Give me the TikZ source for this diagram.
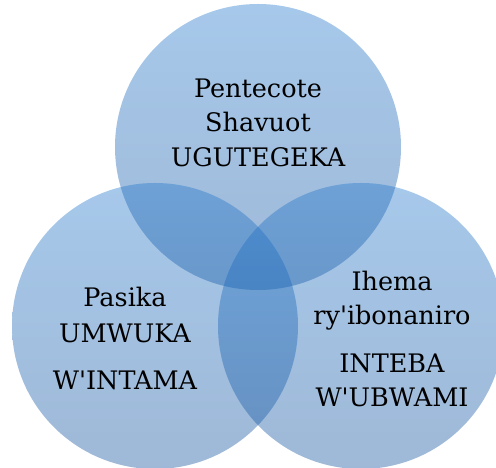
\documentclass[tikz,border=0pt]{standalone}
\usepackage{fontspec}
\setmainfont{DejaVu Serif}[Ligatures=TeXOff]
\definecolor{circtop}{RGB}{33,118,203}
\definecolor{circbot}{RGB}{14,78,155}
\begin{document}
\begin{tikzpicture}[x=1pt,y=1pt,
  venn/.style={top color=circtop,bottom color=circbot,fill opacity=0.4,draw=none},
  lbl/.style={anchor=base,inner sep=0pt,font=\fontsize{25.5}{31}\selectfont,text=black}]
\useasboundingbox (0,0) rectangle (496,468);
\clip (0,0) rectangle (496,468);
\path[venn] (258,321) circle[radius=143];
\path[venn] (155,142) circle[radius=143];
\path[venn] (361,142) circle[radius=143];
\node[lbl] (t1) at (258,370) {Pentecote};
\node[lbl] (t2) at (258,336) {Shavuot};
\node[lbl] (t3) at (258,301) {UGUTEGEKA};
\node[lbl] (l1) at (125,161) {Pasika};
\node[lbl] (l2) at (125,125) {UMWUKA};
\node[lbl] (l3) at (125,78) {W'INTAMA};
\node[lbl] (r1) at (392,177) {Ihema};
\node[lbl] (r2) at (392,143) {ry'ibonaniro};
\node[lbl] (r3) at (392,95) {INTEBA};
\node[lbl] (r4) at (392,61) {W'UBWAMI};
\end{tikzpicture}
\end{document}
